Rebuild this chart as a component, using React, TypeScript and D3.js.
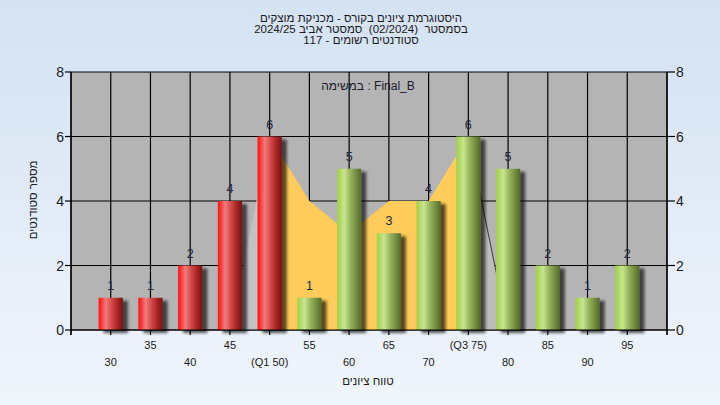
import React from "react";
import * as d3 from "d3";

const categories = [30, 35, 40, 45, 50, 55, 60, 65, 70, 75, 80, 85, 90, 95];
const tickLabels = ["30", "35", "40", "45", "(Q1 50)", "55", "60", "65", "70", "(Q3 75)", "80", "85", "90", "95"];
const counts = [1, 1, 2, 4, 6, 1, 5, 3, 4, 6, 5, 2, 1, 2];
const bandValues = [0, 0, 0, 0, 6, 4, 3, 4, 4, 6, 0, 0, 0, 0];
const q1 = 50;
const q3 = 75;
const yTicks = [0, 2, 4, 6, 8];
const titleLines = [
  "היסטוגרמת ציונים בקורס - מכניקת מוצקים",
  "בסמסטר  (02/2024)  סמסטר אביב 2024/25",
  "סטודנטים רשומים - 117",
];
const legendText = "במשימה : Final_B";
const xTitle = "טווח ציונים";
const yTitle = "מספר סטודנטים";

const W = 720;
const H = 405;
const plot = { left: 71, right: 667, top: 72, bottom: 330 };
const FONT = "'Liberation Sans', Arial, sans-serif";

let _ctx: CanvasRenderingContext2D | null = null;
function measure(s: string, size: number): number {
  if (!_ctx && typeof document !== "undefined") {
    _ctx = document.createElement("canvas").getContext("2d");
  }
  if (!_ctx) return s.length * size * 0.55;
  _ctx.font = `${size}px ${FONT}`;
  return _ctx.measureText(s).width;
}

// Lays out words left-to-right, each word as its own text run
function WordRow(props: { x: number; y: number; text: string; size: number; fill: string }) {
  const { x, y, text, size, fill } = props;
  const words = text.split(" ");
  const space = measure(" ", size);
  const widths = words.map((w) => (w ? measure(w, size) : 0));
  const total = widths.reduce((a, b) => a + b, 0) + space * (words.length - 1);
  let cx = x - total / 2;
  const els: React.ReactNode[] = [];
  words.forEach((w, i) => {
    if (w) {
      els.push(
        <text key={i} x={cx + widths[i] / 2} y={y} textAnchor="middle" fontSize={size} fill={fill}>
          {w}
        </text>
      );
    }
    cx += widths[i] + space;
  });
  return <g>{els}</g>;
}

export default function App() {
  const x = d3.scaleLinear().domain([25, 100]).range([plot.left, plot.right]);
  const y = d3.scaleLinear().domain([0, 8]).range([plot.bottom, plot.top]);
  const step = x(35) - x(30);
  const barW = step * 0.61;

  const pts = categories.map((c, i) => ({ c, v: bandValues[i] }));
  const area = d3
    .area<{ c: number; v: number }>()
    .x((d) => x(d.c))
    .y0(y(0))
    .y1((d) => y(d.v));
  const line = d3
    .line<{ c: number; v: number }>()
    .x((d) => x(d.c))
    .y((d) => y(d.v));
  const midPts = pts.filter((d) => d.c >= q1 && d.c <= q3);
  const leftPts = pts.filter((d) => d.c >= q1 - 5 && d.c <= q1);
  const rightPts = pts.filter((d) => d.c >= q3 && d.c <= q3 + 5);

  const gridX = d3.range(25, 101, 5);

  return (
    <svg
      width={W}
      height={H}
      style={{ position: "fixed", left: 0, top: 0, display: "block" }}
      fontFamily={FONT}
    >
      <defs>
        <linearGradient id="bg" x1="0" y1="0" x2="0" y2="1">
          <stop offset="0%" stopColor="#d4e2f3" />
          <stop offset="100%" stopColor="#f0f5fc" />
        </linearGradient>
        <linearGradient id="red" x1="0" y1="0" x2="1" y2="0">
          <stop offset="0%" stopColor="#ff1414" />
          <stop offset="10%" stopColor="#ff3030" />
          <stop offset="30%" stopColor="#f07c7c" />
          <stop offset="55%" stopColor="#d24646" />
          <stop offset="80%" stopColor="#a42222" />
          <stop offset="100%" stopColor="#761414" />
        </linearGradient>
        <linearGradient id="green" x1="0" y1="0" x2="1" y2="0">
          <stop offset="0%" stopColor="#a2d04a" />
          <stop offset="10%" stopColor="#acd65a" />
          <stop offset="30%" stopColor="#c8e592" />
          <stop offset="55%" stopColor="#98b45c" />
          <stop offset="80%" stopColor="#718c3e" />
          <stop offset="100%" stopColor="#55692c" />
        </linearGradient>
        <filter id="shadow" x="-30%" y="-10%" width="160%" height="130%">
          <feGaussianBlur in="SourceAlpha" stdDeviation="1.8" />
          <feOffset dx="5" dy="3" result="off" />
          <feComponentTransfer>
            <feFuncA type="linear" slope="0.65" />
          </feComponentTransfer>
          <feMerge>
            <feMergeNode />
            <feMergeNode in="SourceGraphic" />
          </feMerge>
        </filter>
      </defs>
      <rect x={0} y={0} width={W} height={H} fill="url(#bg)" />

      {/* title (standard right-to-left rendering) */}
      {titleLines.map((t, i) => (
        <text
          key={i}
          x={361}
          y={22 + i * 11}
          textAnchor="middle"
          fontSize={11.5}
          fill="#1a1a1a"
          style={{ whiteSpace: "pre" }}
        >
          {t}
        </text>
      ))}

      {/* plot background */}
      <rect
        x={plot.left}
        y={plot.top}
        width={plot.right - plot.left}
        height={plot.bottom - plot.top}
        fill="#b4b4b4"
      />

      {/* grid */}
      {yTicks.map((t) => (
        <line
          key={"gy" + t}
          x1={plot.left}
          x2={plot.right}
          y1={y(t)}
          y2={y(t)}
          stroke="#000"
          strokeWidth={1.2}
        />
      ))}
      {gridX.map((g) => (
        <line
          key={"gx" + g}
          x1={x(g)}
          x2={x(g)}
          y1={plot.top}
          y2={plot.bottom}
          stroke="#000"
          strokeWidth={1.2}
        />
      ))}

      {/* band area */}
      <path d={area(leftPts) || ""} fill="#c2c2c2" />
      <path d={area(rightPts) || ""} fill="#bdbdbd" />
      <path d={line(rightPts) || ""} fill="none" stroke="#3a3a3a" strokeWidth={1} />
      <path d={area(midPts) || ""} fill="#ffcb5a" />

      {/* legend */}
      <WordRow x={368} y={90} text={legendText} size={12} fill="#1a1a2a" />

      {/* bars */}
      {categories.map((c, i) => (
        <rect
          key={"b" + c}
          x={x(c) - barW / 2}
          y={y(counts[i])}
          width={barW}
          height={y(0) - y(counts[i])}
          fill={c <= q1 ? "url(#red)" : "url(#green)"}
          filter="url(#shadow)"
        />
      ))}
      {categories.map((c, i) => (
        <text
          key={"v" + c}
          x={x(c)}
          y={y(counts[i]) - 8}
          textAnchor="middle"
          fontSize={12.5}
          fill="#1e2840"
        >
          {counts[i]}
        </text>
      ))}

      {/* axes */}
      <line x1={plot.left} x2={plot.left} y1={plot.top} y2={plot.bottom + 5} stroke="#000" strokeWidth={1.2} />
      <line x1={plot.right} x2={plot.right} y1={plot.top} y2={plot.bottom + 5} stroke="#000" strokeWidth={1.2} />
      <line x1={plot.left} x2={plot.right} y1={plot.bottom} y2={plot.bottom} stroke="#000" strokeWidth={1.2} />
      {yTicks.map((t) => (
        <g key={"yt" + t}>
          <line x1={plot.left - 6} x2={plot.left} y1={y(t)} y2={y(t)} stroke="#000" strokeWidth={1.2} />
          <line x1={plot.right} x2={plot.right + 8} y1={y(t)} y2={y(t)} stroke="#000" strokeWidth={1.2} />
          <text x={plot.left - 7} y={y(t) + 5} textAnchor="end" fontSize={14} fill="#1a1a1a">
            {t}
          </text>
          <text x={plot.right + 9} y={y(t) + 5} textAnchor="start" fontSize={14} fill="#1a1a1a">
            {t}
          </text>
        </g>
      ))}
      {gridX.map((g) => (
        <line
          key={"xt" + g}
          x1={x(g)}
          x2={x(g)}
          y1={plot.bottom}
          y2={plot.bottom + 5}
          stroke="#000"
          strokeWidth={1.2}
        />
      ))}
      {categories.map((c, i) => (
        <text
          key={"xl" + c}
          x={x(c)}
          y={i % 2 === 1 ? 349 : 366}
          textAnchor="middle"
          fontSize={11}
          fill="#1a1a1a"
        >
          {tickLabels[i]}
        </text>
      ))}

      {/* axis titles */}
      <text x={368} y={385} textAnchor="middle" fontSize={11.5} fill="#1a1a1a">
        {xTitle}
      </text>
      <text transform="translate(37, 200) rotate(-90)" textAnchor="middle" fontSize={11.5} fill="#1a1a1a">
        {yTitle}
      </text>
    </svg>
  );
}
